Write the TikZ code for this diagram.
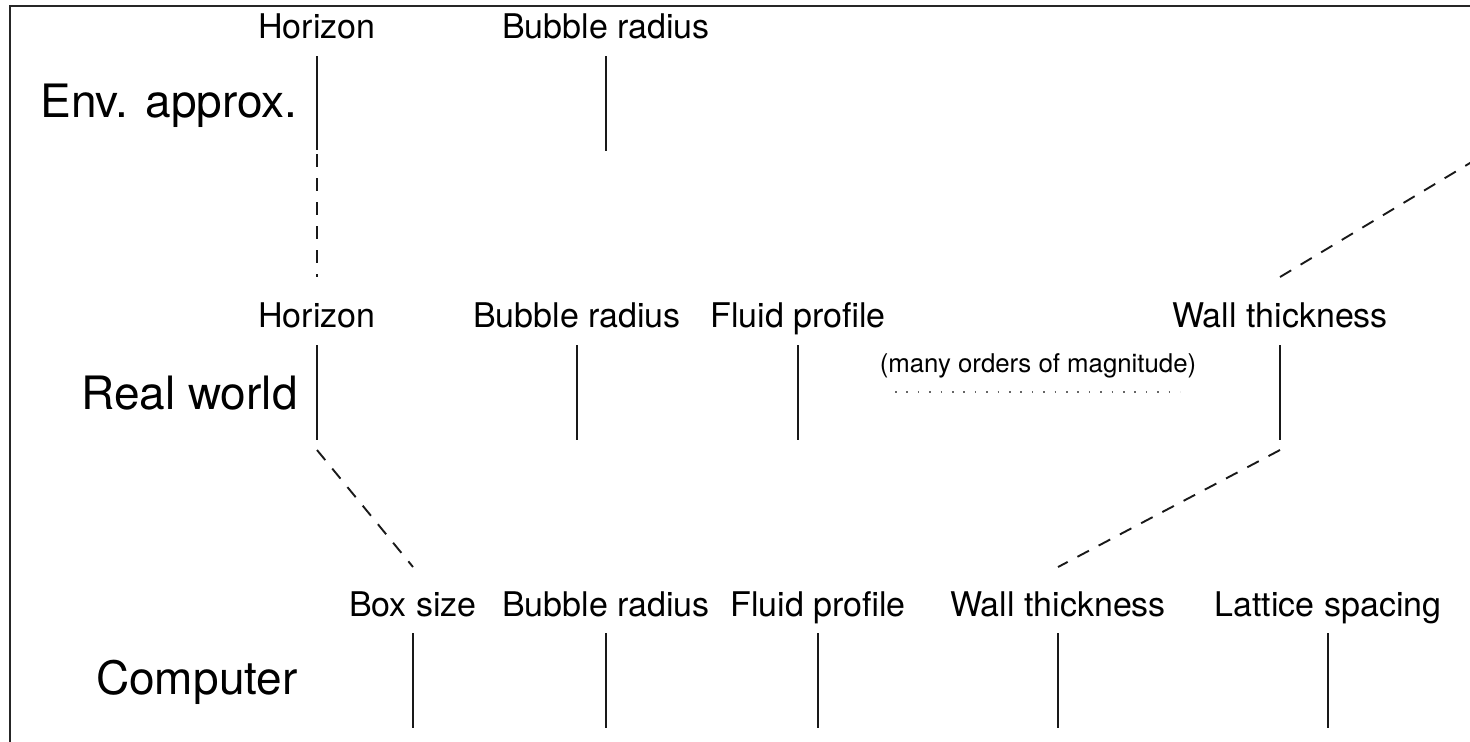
\documentclass[tikz,border=0pt]{standalone}
\usepackage{fontspec}
\setmainfont{TeX Gyre Heros}
\begin{document}
\begin{tikzpicture}[x=0.5pt,y=-0.5pt,
  lbl/.style={font=\fontsize{17}{19}\selectfont, anchor=base, inner sep=0pt},
  rowlbl/.style={font=\fontsize{23}{26}\selectfont, anchor=base east, inner sep=0pt},
  note/.style={font=\fontsize{12.9}{15}\selectfont, anchor=base, inner sep=0pt},
  tick/.style={line width=0.95pt, draw=black!90},
  dashln/.style={line width=0.95pt, draw=black!90, dash pattern=on 6.5pt off 5.5pt},
  dotln/.style={line width=0.8pt, draw=black!60, dash pattern=on 0.8pt off 4.9pt}]
\useasboundingbox (0,0) rectangle (1470,741);
\clip (0,0) rectangle (1470,741);
% frame
\draw[line width=1pt, draw=black!85] (10,760) -- (10,6) -- (1490,6);
% row labels
\node[rowlbl] (env) at (298,117) {Env. approx.};
\node[rowlbl] (real) at (298,409) {Real world};
\node[rowlbl] (comp) at (298,694) {Computer};
% row 1
\node[lbl] (h1) at (317,38) {Horizon};
\node[lbl] (b1) at (606,38) {Bubble radius};
\coordinate (h1t) at (317,56); \coordinate (h1b) at (317,150);
\coordinate (b1t) at (606,56); \coordinate (b1b) at (606,151);
\draw[tick] (h1t) -- (h1b);
\draw[tick] (b1t) -- (b1b);
% row 2
\node[lbl] (h2) at (317,327) {Horizon};
\node[lbl] (b2) at (577,327) {Bubble radius};
\node[lbl] (f2) at (798,327) {Fluid profile};
\node[lbl] (w2) at (1280,327) {Wall thickness};
\node[note] (many) at (1038,372) {(many orders of magnitude)};
\coordinate (h2t) at (317,345); \coordinate (h2b) at (317,440);
\coordinate (b2t) at (577,345); \coordinate (b2b) at (577,440);
\coordinate (f2t) at (798,345); \coordinate (f2b) at (798,440);
\coordinate (w2t) at (1280,345); \coordinate (w2b) at (1280,440);
\draw[tick] (h2t) -- (h2b);
\draw[tick] (b2t) -- (b2b);
\draw[tick] (f2t) -- (f2b);
\draw[tick] (w2t) -- (w2b);
\coordinate (dotL) at (895,392); \coordinate (dotR) at (1180,392);
\draw[dotln] (dotL) -- (dotR);
% row 3
\node[lbl] (bx3) at (413,616) {Box size};
\node[lbl] (b3) at (606,616) {Bubble radius};
\node[lbl] (f3) at (818,616) {Fluid profile};
\node[lbl] (w3) at (1058,616) {Wall thickness};
\node[lbl] (l3) at (1328,616) {Lattice spacing};
\coordinate (bx3t) at (413,633); \coordinate (bx3b) at (413,728);
\coordinate (b3t) at (606,633); \coordinate (b3b) at (606,728);
\coordinate (f3t) at (818,633); \coordinate (f3b) at (818,728);
\coordinate (w3t) at (1058,633); \coordinate (w3b) at (1058,728);
\coordinate (l3t) at (1328,633); \coordinate (l3b) at (1328,728);
\draw[tick] (bx3t) -- (bx3b);
\draw[tick] (b3t) -- (b3b);
\draw[tick] (f3t) -- (f3b);
\draw[tick] (w3t) -- (w3b);
\draw[tick] (l3t) -- (l3b);
% dashed connectors
\coordinate (h1gap) at (317,154);
\coordinate (h2top) at (317,277);
\draw[dashln] (h1gap) -- (h2top);
\coordinate (w2top) at (1280,277);
\coordinate (offR) at (1530,127);
\draw[dashln] (w2top) -- (offR);
\coordinate (bx3top) at (413,567);
\coordinate (w3top) at (1058,567);
\coordinate (h2low) at (317,450);
\coordinate (w2low) at (1280,450);
\draw[dashln] (h2low) -- (bx3top);
\draw[dashln] (w2low) -- (w3top);
\end{tikzpicture}
\end{document}
